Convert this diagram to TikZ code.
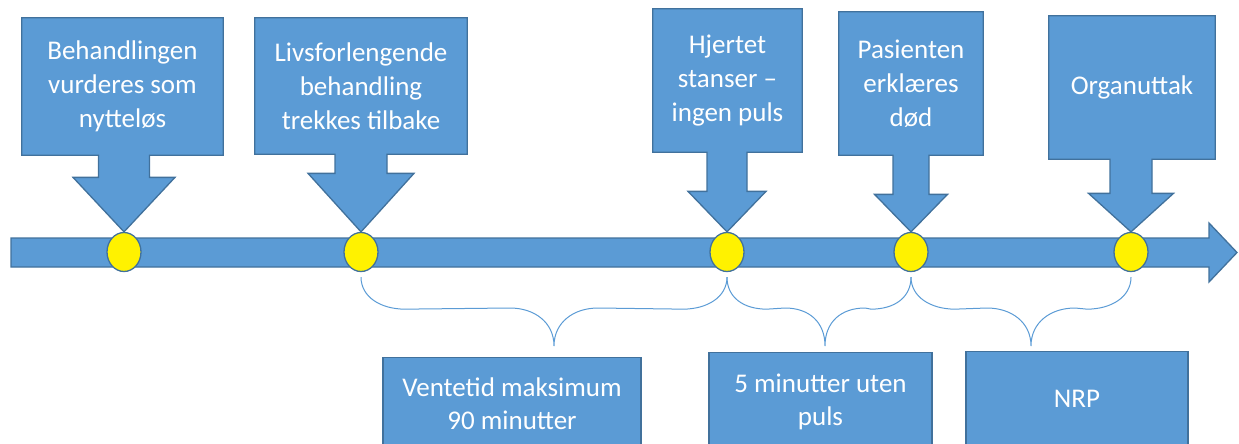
\documentclass[tikz,border=0pt]{standalone}
\usepackage{fontspec}
\setmainfont{Carlito}
\usetikzlibrary{shapes.geometric,backgrounds,calc}

\definecolor{boxblue}{HTML}{5B9BD5}
\definecolor{edgeblue}{HTML}{41719C}

\tikzset{
    event/.style={text=white, align=center, inner sep=0pt, font=\fontsize{27}{34}\selectfont},
    callout/.style={fill=boxblue, draw=edgeblue, line width=1.3pt},
    span/.style={rectangle, anchor=north, fill=boxblue, draw=edgeblue, line width=1.3pt, text=white, align=center, inner sep=0pt, font=\fontsize{27}{33}\selectfont},
    dot/.style={ellipse, fill=yellow, draw=edgeblue, line width=1.3pt, minimum width=34pt, minimum height=39pt, inner sep=0pt},
    brace/.style={draw=boxblue, line width=1pt},
}

\begin{document}
\begin{tikzpicture}[x=1pt, y=-1pt]
        \useasboundingbox (0,0) rectangle (1239,444);
        \clip (0,0) rectangle (1239,444);

        \foreach \i/\x in {1/124, 2/361, 3/727, 4/911, 5/1131} {
            \node[dot] (d\i) at (\x, 252) {};
        }

        \node[event, minimum width=201pt, minimum height=137pt] (e1) at (122.5, 86.5) {Behandlingen\\vurderes som\\nytteløs};
        \node[event, minimum width=212pt, minimum height=136pt] (e2) at (361, 86) {Livsforlengende\\behandling\\trekkes tilbake};
        \node[event, minimum width=149pt, minimum height=143pt] (e3) at (727.5, 80.5) {Hjertet\\stanser --\\ingen puls};
        \node[event, minimum width=144pt, minimum height=143pt] (e4) at (911, 83.5) {Pasienten\\erklæres\\død};
        \node[event, minimum width=166pt, minimum height=143pt] (e5) at (1132, 87.5) {Organuttak};

        \begin{scope}[on background layer]
            % time axis
            \draw[callout] (11,238) -- (1209,238) -- (1209,223) -- (1237,252.5) -- (1209,282) -- (1209,267) -- (11,267) -- cycle;
            \foreach \i/\sw/\hw/\hh in {1/25.5/51/54.5, 2/26/53/58.5, 3/20/39/40.5, 4/18/36.5/37.5, 5/21/42.5/38.5} {
                \draw[callout] (e\i.north west) -- (e\i.north east) -- (e\i.south east)
                    -- ($(e\i.south -| d\i.north)+(\sw,0)$) -- ($(d\i.north)+(\sw,-\hh)$)
                    -- ($(d\i.north)+(\hw,-\hh)$) -- (d\i.north) -- ($(d\i.north)+(-\hw,-\hh)$)
                    -- ($(d\i.north)+(-\sw,-\hh)$) -- ($(e\i.south -| d\i.north)+(-\sw,0)$)
                    -- (e\i.south west) -- cycle;
            }
        \end{scope}

        \foreach \a/\b/\tx/\w in {2/3/554/44, 3/4/825/40, 4/5/1031/44} {
            \coordinate (l) at ([yshift=-5pt]d\a.south);
            \coordinate (r) at ([yshift=-5pt]d\b.south);
            \coordinate (t) at (\tx, 346);
            \draw[brace] (l) .. controls +(0,20) and +(-24,0) .. ($(l)+(\w,32)$) -- ($(t)+(-\w,-38)$)
                .. controls +(24,0) and +(0,-24) .. (t)
                .. controls +(0,-24) and +(-24,0) .. ($(t)+(\w,-38)$) -- ($(r)+(-\w,32)$)
                .. controls +(24,0) and +(0,20) .. (r);
        }

        \node[span, minimum width=258pt, minimum height=93pt] (s1) at (512, 357) {Ventetid maksimum\\90 minutter};
        \node[span, minimum width=223pt, minimum height=99pt] (s2) at (820.5, 352) {5 minutter uten\\puls};
        \node[span, minimum width=222pt, minimum height=94pt] (s3) at (1077, 351) {NRP};
    \end{tikzpicture}
\end{document}
